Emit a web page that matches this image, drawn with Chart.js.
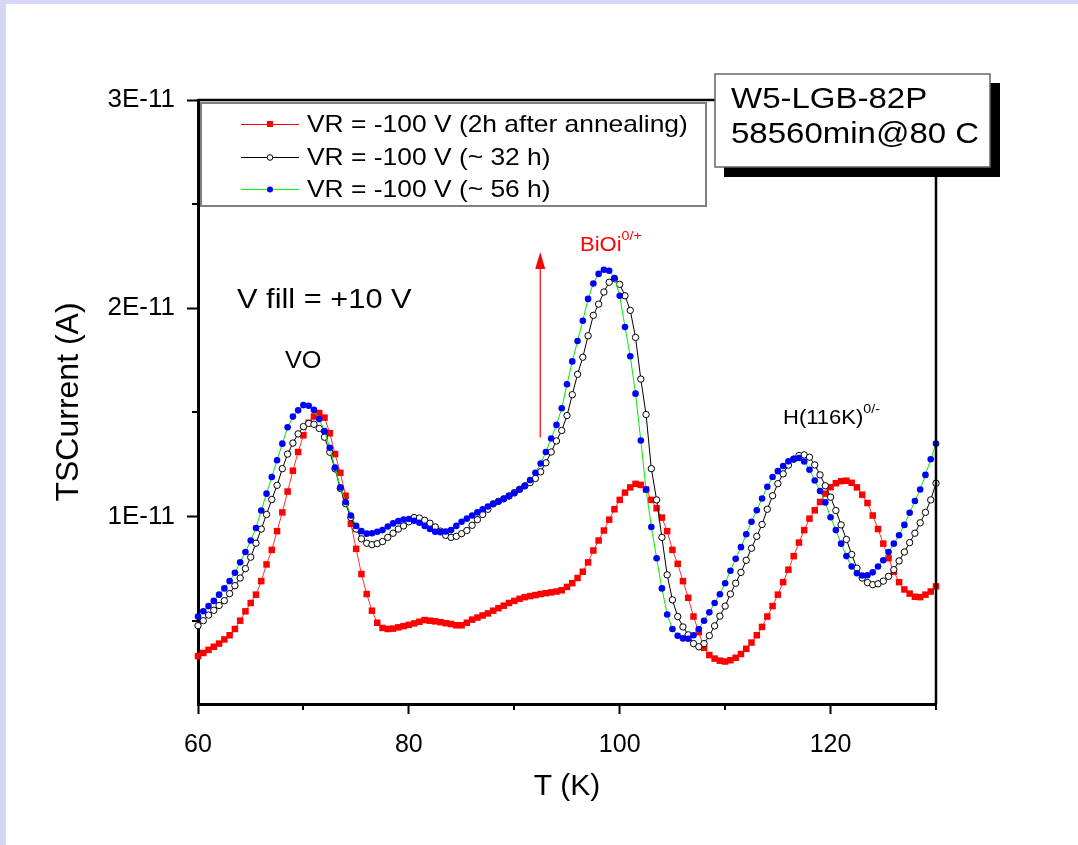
<!DOCTYPE html>
<html>
<head>
<meta charset="utf-8">
<title>TSC spectra W5-LGB-82P</title>
<script src="https://cdn.jsdelivr.net/npm/chart.js@4.4.1/dist/chart.umd.min.js"></script>
<style>
    html, body { margin: 0; padding: 0; background: #d6d6f6; }
    #wrap { width: 1078px; height: 845px; position: relative; }
</style>
</head>
<body>
<div id="wrap"><canvas id="tscChart"></canvas></div>
<script>
// Temperature (K)
const temps = [
    60, 60.5, 61, 61.5, 62, 62.5, 63, 63.5, 64, 64.5,
    65, 65.5, 66, 66.5, 67, 67.5, 68, 68.5, 69, 69.5,
    70, 70.5, 71, 71.5, 72, 72.5, 73, 73.5, 74, 74.5,
    75, 75.5, 76, 76.5, 77, 77.5, 78, 78.5, 79, 79.5,
    80, 80.5, 81, 81.5, 82, 82.5, 83, 83.5, 84, 84.5,
    85, 85.5, 86, 86.5, 87, 87.5, 88, 88.5, 89, 89.5,
    90, 90.5, 91, 91.5, 92, 92.5, 93, 93.5, 94, 94.5,
    95, 95.5, 96, 96.5, 97, 97.5, 98, 98.5, 99, 99.5,
    100, 100.5, 101, 101.5, 102, 102.5, 103, 103.5, 104, 104.5,
    105, 105.5, 106, 106.5, 107, 107.5, 108, 108.5, 109, 109.5,
    110, 110.5, 111, 111.5, 112, 112.5, 113, 113.5, 114, 114.5,
    115, 115.5, 116, 116.5, 117, 117.5, 118, 118.5, 119, 119.5,
    120, 120.5, 121, 121.5, 122, 122.5, 123, 123.5, 124, 124.5,
    125, 125.5, 126, 126.5, 127, 127.5, 128, 128.5, 129, 129.5,
    130
];

// TSCurrent in units of 1E-11 A
const current2h = [
    0.33, 0.345, 0.36, 0.375, 0.39, 0.41, 0.43, 0.46, 0.50, 0.545,
    0.585, 0.625, 0.69, 0.77, 0.84, 0.93, 1.02, 1.12, 1.22, 1.31,
    1.39, 1.45, 1.48, 1.497, 1.475, 1.40, 1.30, 1.21, 1.10, 0.965,
    0.845, 0.724, 0.628, 0.548, 0.49, 0.465, 0.46, 0.462, 0.468, 0.474,
    0.48, 0.487, 0.495, 0.503, 0.50, 0.497, 0.493, 0.488, 0.484, 0.478,
    0.478, 0.49, 0.505, 0.515, 0.525, 0.535, 0.548, 0.56, 0.572, 0.585,
    0.595, 0.605, 0.613, 0.618, 0.623, 0.628, 0.632, 0.636, 0.64, 0.646,
    0.662, 0.68, 0.705, 0.735, 0.78, 0.837, 0.885, 0.933, 0.985, 1.035,
    1.08, 1.115, 1.14, 1.157, 1.152, 1.13, 1.08, 1.04, 0.995, 0.93,
    0.84, 0.773, 0.69, 0.61, 0.52, 0.445, 0.37, 0.335, 0.318, 0.308,
    0.304, 0.31, 0.322, 0.34, 0.365, 0.395, 0.43, 0.47, 0.52, 0.57,
    0.625, 0.685, 0.745, 0.81, 0.875, 0.935, 0.99, 1.03, 1.07, 1.11,
    1.141, 1.16, 1.17, 1.172, 1.162, 1.14, 1.105, 1.065, 1.005, 0.94,
    0.87, 0.80, 0.735, 0.685, 0.65, 0.63, 0.615, 0.613, 0.625, 0.64,
    0.665
];

const current32h = [
    0.476, 0.50, 0.527, 0.55, 0.573, 0.596, 0.63, 0.668, 0.705, 0.75,
    0.805, 0.872, 0.94, 1.01, 1.082, 1.15, 1.23, 1.30, 1.353, 1.397,
    1.432, 1.447, 1.443, 1.423, 1.381, 1.309, 1.229, 1.135, 1.062, 0.995,
    0.94, 0.893, 0.872, 0.865, 0.87, 0.88, 0.90, 0.92, 0.94, 0.955,
    0.975, 0.995, 0.993, 0.982, 0.968, 0.95, 0.93, 0.91, 0.90, 0.905,
    0.918, 0.933, 0.958, 0.985, 1.01, 1.035, 1.061, 1.073, 1.085, 1.099,
    1.115, 1.131, 1.147, 1.163, 1.183, 1.215, 1.258, 1.31, 1.363, 1.413,
    1.485, 1.585, 1.683, 1.765, 1.868, 1.966, 2.02, 2.078, 2.125, 2.142,
    2.115, 2.06, 1.99, 1.86, 1.66, 1.49, 1.23, 1.08, 0.90, 0.72,
    0.60, 0.52, 0.47, 0.432, 0.39, 0.375, 0.39, 0.428, 0.475, 0.522,
    0.57, 0.628, 0.68, 0.732, 0.79, 0.848, 0.905, 0.962, 1.035, 1.10,
    1.158, 1.205, 1.247, 1.275, 1.293, 1.296, 1.285, 1.248, 1.20, 1.148,
    1.093, 1.029, 0.96, 0.89, 0.818, 0.752, 0.705, 0.683, 0.673, 0.677,
    0.69, 0.713, 0.745, 0.787, 0.83, 0.875, 0.92, 0.97, 1.02, 1.08,
    1.16
];

const current56h = [
    0.52, 0.545, 0.57, 0.595, 0.625, 0.655, 0.69, 0.73, 0.78, 0.83,
    0.885, 0.945, 1.029, 1.11, 1.19, 1.27, 1.35, 1.429, 1.48, 1.51,
    1.535, 1.532, 1.512, 1.468, 1.41, 1.33, 1.235, 1.14, 1.07, 1.005,
    0.955, 0.93, 0.918, 0.92, 0.927, 0.935, 0.952, 0.967, 0.978, 0.986,
    0.988, 0.98, 0.97, 0.955, 0.94, 0.927, 0.925, 0.928, 0.935, 0.955,
    0.975, 0.99, 1.005, 1.02, 1.035, 1.048, 1.06, 1.072, 1.085, 1.098,
    1.112, 1.13, 1.148, 1.175, 1.21, 1.255, 1.31, 1.375, 1.44, 1.52,
    1.635, 1.745, 1.843, 1.94, 2.045, 2.119, 2.165, 2.185, 2.18, 2.145,
    2.06, 1.91, 1.77, 1.59, 1.365, 1.13, 0.95, 0.80, 0.655, 0.53,
    0.46, 0.428, 0.415, 0.413, 0.43, 0.46, 0.50, 0.54, 0.585, 0.627,
    0.68, 0.74, 0.797, 0.853, 0.915, 0.975, 1.03, 1.087, 1.143, 1.19,
    1.218, 1.243, 1.265, 1.277, 1.281, 1.264, 1.225, 1.173, 1.123, 1.068,
    0.997, 0.935, 0.87, 0.81, 0.76, 0.728, 0.717, 0.718, 0.732, 0.76,
    0.79, 0.83, 0.87, 0.91, 0.96, 1.018, 1.075, 1.13, 1.2, 1.275,
    1.35
];

const seriesLabels = [
    'VR = -100 V (2h after annealing)',
    'VR = -100 V (~ 32 h)',
    'VR = -100 V (~ 56 h)'
];

// Axis ticks
const xMajorTicks = [60, 80, 100, 120];
const xMinorTicks = [70, 90, 110, 130];
const yMajorTicks = [1, 2, 3];
const yMinorTicks = [0.5, 1.5, 2.5];

const FONT = '"Liberation Sans", Arial, sans-serif';
const STRETCH = 1.1;

// Draw horizontally widened text (the original figure is a bit stretched)
function wideText(ctx, text, x, y, size, color) {
    ctx.save();
    ctx.font = size + 'px ' + FONT;
    ctx.fillStyle = color || '#000';
    ctx.textBaseline = 'middle';
    ctx.textAlign = 'left';
    const w = ctx.measureText(text).width * STRETCH;
    ctx.translate(x, y);
    ctx.scale(STRETCH, 1);
    ctx.fillText(text, 0, 0);
    ctx.restore();
    return w;
}

function toPoints(values) {
    return temps.map((t, i) => ({ x: t, y: values[i] }));
}

// Page background: lavender frame with white sheet
const sheetPlugin = {
    id: 'sheet',
    beforeDraw(chart) {
        const ctx = chart.ctx;
        ctx.save();
        ctx.fillStyle = '#d6d6f6';
        ctx.fillRect(0, 0, chart.width, chart.height);
        ctx.fillStyle = '#ffffff';
        ctx.fillRect(6, 4, chart.width - 6, chart.height - 4);
        ctx.restore();
    }
};

// Minor ticks, top/right frame lines, legend box, labels
const decorPlugin = {
    id: 'decor',
    afterDraw(chart) {
        const ctx = chart.ctx;
        const area = chart.chartArea;
        const xs = chart.scales.x;
        const ys = chart.scales.y;
        ctx.save();

        // minor ticks
        ctx.strokeStyle = '#000';
        ctx.lineWidth = 2;
        ctx.beginPath();
        yMinorTicks.forEach(v => {
            const y = Math.round(ys.getPixelForValue(v));
            ctx.moveTo(area.left - 6, y);
            ctx.lineTo(area.left, y);
        });
        xMinorTicks.forEach(v => {
            const x = Math.round(xs.getPixelForValue(v));
            ctx.moveTo(x, area.bottom);
            ctx.lineTo(x, area.bottom + 6);
        });
        ctx.stroke();

        // top and right frame
        ctx.lineWidth = 2.5;
        ctx.beginPath();
        ctx.moveTo(area.left, area.top);
        ctx.lineTo(area.right, area.top);
        ctx.lineTo(area.right, area.bottom);
        ctx.stroke();

        // legend box
        ctx.fillStyle = '#fff';
        ctx.fillRect(201, 103, 505, 103);
        ctx.strokeStyle = '#808080';
        ctx.lineWidth = 2;
        ctx.strokeRect(201, 103, 505, 103);

        const rows = [124, 157, 189];
        const lineCols = ['#ff0000', '#000000', '#00ff00'];
        rows.forEach((y, i) => {
            ctx.strokeStyle = lineCols[i];
            ctx.lineWidth = 1;
            ctx.beginPath();
            ctx.moveTo(241, y + 0.5);
            ctx.lineTo(299, y + 0.5);
            ctx.stroke();
            if (i === 0) {
                ctx.fillStyle = '#ff0000';
                ctx.fillRect(267, y - 3, 6, 6);
            } else if (i === 1) {
                ctx.fillStyle = '#fff';
                ctx.strokeStyle = '#000';
                ctx.beginPath();
                ctx.arc(270, y + 0.5, 2.8, 0, Math.PI * 2);
                ctx.fill();
                ctx.stroke();
            } else {
                ctx.fillStyle = '#0000ff';
                ctx.beginPath();
                ctx.arc(270, y + 0.5, 3, 0, Math.PI * 2);
                ctx.fill();
            }
            wideText(ctx, seriesLabels[i], 307, y + 1, 24);
        });

        // sample box with shadow
        ctx.fillStyle = '#000';
        ctx.fillRect(724, 83, 276, 94);
        ctx.fillStyle = '#fff';
        ctx.fillRect(715, 74, 275, 93);
        ctx.strokeStyle = '#666';
        ctx.lineWidth = 1.5;
        ctx.strokeRect(715, 74, 275, 93);
        wideText(ctx, 'W5-LGB-82P', 731, 100, 30);
        wideText(ctx, '58560min@80 C', 731, 135, 30);

        // peak labels
        wideText(ctx, 'V fill = +10 V', 237, 300, 28);
        wideText(ctx, 'VO', 285, 362, 23);
        let w = wideText(ctx, 'BiOi', 580, 245, 20, '#ff0000');
        wideText(ctx, '0/+', 580 + w, 236, 13, '#ff0000');
        w = wideText(ctx, 'H(116K)', 783, 418, 20);
        wideText(ctx, '0/-', 783 + w, 409, 13);

        // red arrow at the BiOi rise
        const ax = xs.getPixelForValue(92.46);
        const yFrom = ys.getPixelForValue(1.38);
        const yTip = ys.getPixelForValue(2.27);
        ctx.strokeStyle = '#ff0000';
        ctx.fillStyle = '#ff0000';
        ctx.lineWidth = 1.2;
        ctx.beginPath();
        ctx.moveTo(ax, yFrom);
        ctx.lineTo(ax, yTip + 12);
        ctx.stroke();
        ctx.beginPath();
        ctx.moveTo(ax, yTip);
        ctx.lineTo(ax - 5, yTip + 17);
        ctx.lineTo(ax + 5, yTip + 17);
        ctx.closePath();
        ctx.fill();

        ctx.restore();
    }
};

new Chart(document.getElementById('tscChart'), {
    type: 'line',
    data: {
        datasets: [{
            label: seriesLabels[0],
            data: toPoints(current2h),
            borderColor: '#ff3030',
            borderWidth: 1,
            pointStyle: 'rect',
            pointRadius: 4.6,
            pointBackgroundColor: '#ff0000',
            pointBorderColor: '#ff0000',
            pointBorderWidth: 0,
            order: 3
        }, {
            label: seriesLabels[1],
            data: toPoints(current32h),
            borderColor: '#000000',
            borderWidth: 1,
            pointStyle: 'circle',
            pointRadius: 3.2,
            pointBackgroundColor: '#ffffff',
            pointBorderColor: '#000000',
            pointBorderWidth: 1,
            order: 2
        }, {
            label: seriesLabels[2],
            data: toPoints(current56h),
            borderColor: '#00ee00',
            borderWidth: 1,
            pointStyle: 'circle',
            pointRadius: 3.3,
            pointBackgroundColor: '#0000ff',
            pointBorderColor: '#0000ff',
            pointBorderWidth: 0,
            order: 1
        }]
    },
    options: {
        responsive: true,
        maintainAspectRatio: false,
        animation: false,
        clip: false,
        layout: {
            padding: { left: 0, top: 100, right: 142, bottom: 0 }
        },
        plugins: {
            legend: { display: false },
            tooltip: { enabled: false }
        },
        scales: {
            x: {
                type: 'linear',
                min: 60,
                max: 130,
                afterBuildTicks: (scale) => {
                    scale.ticks = xMajorTicks.map(v => ({ value: v }));
                },
                afterFit: (scale) => { scale.height = 141; },
                ticks: {
                    color: '#000',
                    font: { family: FONT, size: 25 },
                    padding: 16,
                    maxRotation: 0,
                    autoSkip: false
                },
                grid: {
                    drawOnChartArea: false,
                    drawTicks: true,
                    tickLength: 10,
                    tickWidth: 2,
                    tickColor: '#000'
                },
                border: { display: true, color: '#000', width: 3 },
                title: {
                    display: true,
                    text: 'T (K)',
                    color: '#000',
                    font: { family: FONT, size: 30 },
                    padding: { top: 0, bottom: 40 }
                }
            },
            y: {
                type: 'linear',
                min: 0.1,
                max: 3,
                afterBuildTicks: (scale) => {
                    scale.ticks = yMajorTicks.map(v => ({ value: v }));
                },
                afterFit: (scale) => { scale.width = 198; },
                ticks: {
                    color: '#000',
                    font: { family: FONT, size: 26 },
                    padding: 12,
                    callback: (v) => v + 'E-11'
                },
                grid: {
                    drawOnChartArea: false,
                    drawTicks: true,
                    tickLength: 11,
                    tickWidth: 2,
                    tickColor: '#000'
                },
                border: { display: true, color: '#000', width: 3 },
                title: {
                    display: true,
                    text: 'TSCurrent (A)',
                    color: '#000',
                    font: { family: FONT, size: 32 },
                    padding: { top: 50, bottom: 0 }
                }
            }
        }
    },
    plugins: [sheetPlugin, decorPlugin]
});
</script>
</body>
</html>
